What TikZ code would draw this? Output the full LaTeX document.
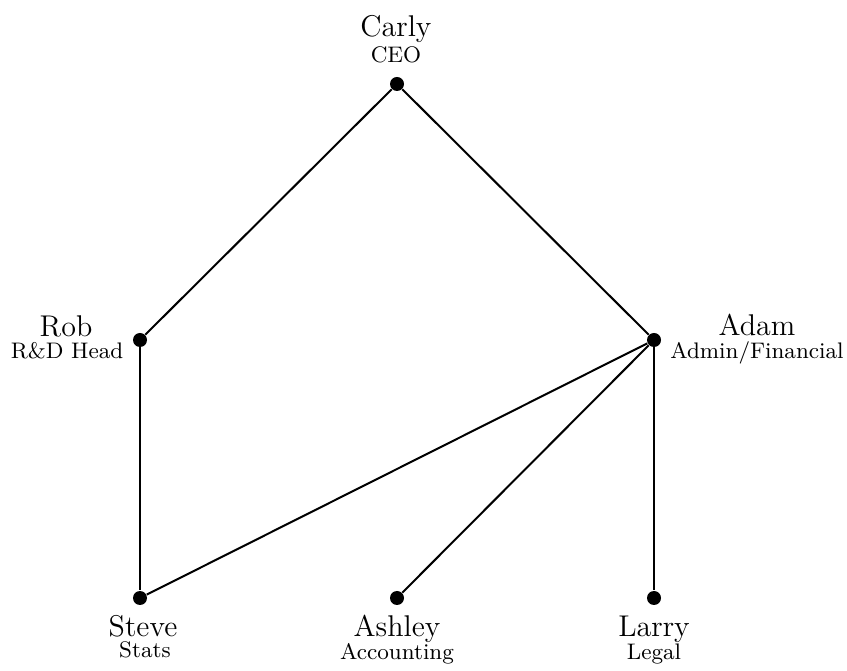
\documentclass[tikz,border=0pt]{standalone}
\begin{document}
\begin{tikzpicture}[x=0.4pt,y=-0.4pt,
  dot/.style={circle,fill=black,inner sep=0pt,minimum size=5.6pt},
  link/.style={line width=0.8pt},
  nm/.style={anchor=base,font=\large,inner sep=0pt},
  rl/.style={anchor=base,font=\small,inner sep=0pt}]
\useasboundingbox (0,0) rectangle (847,671);
% dots
\node[dot] (carly)  at (397,84)  {};
\node[dot] (rob)    at (140,340) {};
\node[dot] (adam)   at (654,340) {};
\node[dot] (steve)  at (140,598) {};
\node[dot] (ashley) at (397,598) {};
\node[dot] (larry)  at (654,598) {};
% connectors
\draw[link] (carly) -- (rob);
\draw[link] (carly) -- (adam);
\draw[link] (rob) -- (steve);
\draw[link] (adam) -- (steve);
\draw[link] (adam) -- (ashley);
\draw[link] (adam) -- (larry);
% labels
\node[nm] (carlyN)  at (396,36.7)  {Carly};
\node[rl] (carlyR)  at (396,62.7)  {CEO};
\node[nm] (robN)    at (66,336.7)  {Rob};
\node[rl] (robR)    at (67,358.3)  {R\&D Head};
\node[nm] (adamN)   at (757,335.7) {Adam};
\node[rl] (adamR)   at (757,358.3) {Admin/Financial};
\node[nm] (steveN)  at (143,636.7) {Steve};
\node[rl] (steveR)  at (145,657.5) {Stats};
\node[nm] (ashleyN) at (397,636.7) {Ashley};
\node[rl] (ashleyR) at (397,659.3) {Accounting};
\node[nm] (larryN)  at (654,636.7) {Larry};
\node[rl] (larryR)  at (654,660)   {Legal};
\end{tikzpicture}
\end{document}
